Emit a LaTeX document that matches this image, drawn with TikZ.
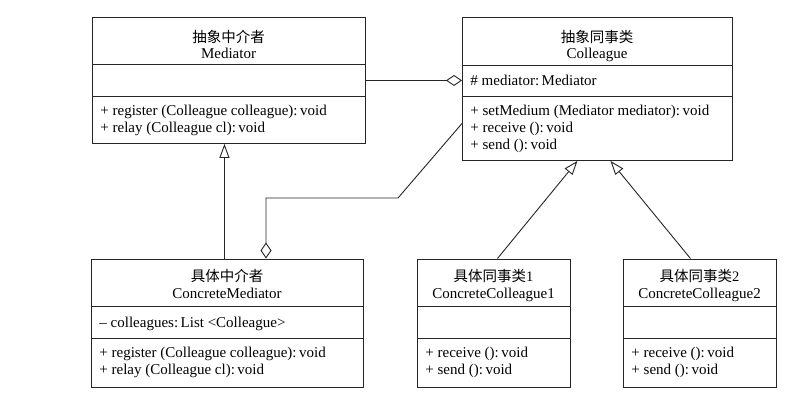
\documentclass[tikz,border=0pt]{standalone}
\usepackage{fontspec}
\setmainfont{Liberation Serif}
\newfontfamily\cjk{Noto Sans CJK SC}
\usetikzlibrary{arrows.meta}
\begin{document}
\begin{tikzpicture}[x=1pt,y=-1pt,line width=0.9pt,draw=black!85,
  cls/.style={draw,rectangle,inner sep=0pt,anchor=north west},
  ttl/.style={font=\fontsize{15}{17}\selectfont,inner sep=0pt,anchor=base},
  cjt/.style={font=\cjk\fontsize{14.5}{17}\selectfont,inner sep=0pt,anchor=base},
  mem/.style={font=\fontsize{15}{17}\selectfont,inner sep=0pt,anchor=base west},
  gen/.style={-{Triangle[open,length=14pt,width=10pt]}},
  agg/.style={-{Diamond[open,length=16pt,width=11pt]}}]
\useasboundingbox (0,0) rectangle (812,400);
\fill[white] (0,0) rectangle (812,400);
% Mediator
\node[cls,minimum width=273pt,minimum height=126pt] (med) at (92,17) {};
\draw (med.west |- 0,64) -- (med.east |- 0,64);
\draw (med.west |- 0,96) -- (med.east |- 0,96);
\node[cjt] (medA) at (228.5,42) {抽象中介者};
\node[ttl] (medB) at (228.5,58) {Mediator};
\node[mem] (medC) at (100,115) {+ register (Colleague colleague):\,void};
\node[mem] (medD) at (100,132) {+ relay (Colleague cl):\,void};
% Colleague
\node[cls,minimum width=270pt,minimum height=143pt] (col) at (462,17) {};
\draw (col.west |- 0,65) -- (col.east |- 0,65);
\draw (col.west |- 0,96) -- (col.east |- 0,96);
\node[cjt] (colA) at (597,42) {抽象同事类};
\node[ttl] (colB) at (597,58) {Colleague};
\node[mem] (colC) at (470,85) {\# mediator:\,Mediator};
\node[mem] (colD) at (470,115) {+ setMedium (Mediator mediator):\,void};
\node[mem] (colE) at (470,132) {+ receive ():\,void};
\node[mem] (colF) at (470,149) {+ send ():\,void};
% ConcreteMediator
\node[cls,minimum width=272pt,minimum height=128pt] (cmed) at (91,258.5) {};
\draw (cmed.west |- 0,306.5) -- (cmed.east |- 0,306.5);
\draw (cmed.west |- 0,338) -- (cmed.east |- 0,338);
\node[cjt] (cmedA) at (227,281) {具体中介者};
\node[ttl] (cmedB) at (227,298) {ConcreteMediator};
\node[mem] (cmedC) at (99,327) {– colleagues:\,List <Colleague>};
\node[mem] (cmedD) at (99,357) {+ register (Colleague colleague):\,void};
\node[mem] (cmedE) at (99,374) {+ relay (Colleague cl):\,void};
% ConcreteColleague1
\node[cls,minimum width=153pt,minimum height=128pt] (cc1) at (417,258.5) {};
\draw (cc1.west |- 0,306.5) -- (cc1.east |- 0,306.5);
\draw (cc1.west |- 0,338) -- (cc1.east |- 0,338);
\node[cjt] (cc1A) at (493.5,281) {具体同事类\fontspec{Liberation Serif}1};
\node[ttl] (cc1B) at (493.5,298) {ConcreteColleague1};
\node[mem] (cc1C) at (425,357) {+ receive ():\,void};
\node[mem] (cc1D) at (425,374) {+ send ():\,void};
% ConcreteColleague2
\node[cls,minimum width=153pt,minimum height=128pt] (cc2) at (623,258.5) {};
\draw (cc2.west |- 0,306.5) -- (cc2.east |- 0,306.5);
\draw (cc2.west |- 0,338) -- (cc2.east |- 0,338);
\node[cjt] (cc2A) at (699.5,281) {具体同事类\fontspec{Liberation Serif}2};
\node[ttl] (cc2B) at (699.5,298) {ConcreteColleague2};
\node[mem] (cc2C) at (631,357) {+ receive ():\,void};
\node[mem] (cc2D) at (631,374) {+ send ():\,void};
% connectors
\draw[agg] (med.east) -- (med.east -| col.west);
\draw[gen] ([xshift=-3pt]cmed.north) -- ([xshift=-3pt]cmed.north |- med.south);
\draw[gen] ([xshift=3.5pt]cc1.north) -- ([xshift=-20pt]col.south);
\draw[gen] ([xshift=-9.5pt]cc2.north) -- ([xshift=13pt]col.south);
\coordinate (bA) at (398,198);
\coordinate (bB) at (266,198);
\draw[agg] ([yshift=-34.5pt]col.west) -- (bA) -- (bB) -- (bB |- cmed.north);
\end{tikzpicture}
\end{document}
